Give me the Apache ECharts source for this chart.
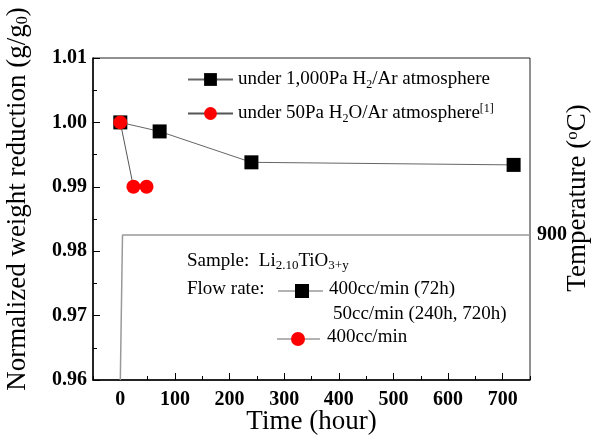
<!DOCTYPE html>
<html>
  <head>
    <meta charset="utf-8" />
    <title>Weight reduction</title>
    <script src="https://cdn.jsdelivr.net/npm/echarts@6/dist/echarts.min.js"></script>
  </head>
  <body style="margin:0">
    <div id="main" style="width: 593px; height: 437px"></div>
    <script>
      // time (hour), normalized weight g/g0
      var h2Time = [0, 72, 240, 720];
      var h2Weight = [1.0, 0.9986, 0.9938, 0.9934];
      var h2oTime = [0, 24, 48];
      var h2oWeight = [1.0, 0.99, 0.99];
      // temperature program
      var tempTime = [0, 4, 750];
      var tempValue = [0, 900, 900];
      var xTicks = [0, 100, 200, 300, 400, 500, 600, 700];

      var serif = "Liberation Serif";
      function pairs(a, b) {
        var out = [];
        for (var i = 0; i < a.length; i++) out.push([a[i], b[i]]);
        return out;
      }

      var chart = echarts.init(document.getElementById("main"));
      var option = {
        backgroundColor: "#fff",
        animation: false,
        textStyle: { fontFamily: serif, color: "#000" },
        grid: {
          left: 93, right: 63, top: 58, bottom: 57,
          containLabel: false, outerBoundsMode: "none",
          show: true, borderColor: "#222", borderWidth: 1
        },
        legend: {
          data: ["h2", "h2o"],
          orient: "vertical",
          left: 182,
          top: 65,
          itemWidth: 45,
          itemHeight: 16,
          itemGap: 12,
          textStyle: {
            fontFamily: serif, fontSize: 19, color: "#000",
            rich: {
              n: { fontFamily: serif, fontSize: 19, lineHeight: 22 },
              sub: { fontFamily: serif, fontSize: 12, lineHeight: 12, verticalAlign: "bottom" },
              sup: { fontFamily: serif, fontSize: 12, lineHeight: 12, verticalAlign: "top" }
            }
          },
          formatter: function (name) {
            if (name === "h2") return "{n|under 1,000Pa H}{sub|2}{n|/Ar atmosphere}";
            return "{n|under 50Pa H}{sub|2}{n|O/Ar atmosphere}{sup|[1]}";
          }
        },
        xAxis: [
          {
            type: "value", min: -50, max: 750,
            name: "Time (hour)", nameLocation: "middle", nameGap: 28, nameMoveOverlap: false,
            nameTextStyle: { fontFamily: serif, fontSize: 27 },
            axisLine: { onZero: false, lineStyle: { color: "#000", width: 1.5 } },
            axisTick: { inside: true, length: 7, customValues: xTicks, lineStyle: { color: "#000" } },
            axisLabel: {
              customValues: xTicks, margin: 10,
              fontFamily: serif, fontSize: 20, fontWeight: "bold", color: "#000"
            },
            splitLine: { show: false }
          },
          {
            type: "value", min: -50, max: 750, interval: 50, position: "bottom",
            axisLine: { show: false, onZero: false },
            axisTick: { inside: true, length: 4, lineStyle: { color: "#000" } },
            axisLabel: { show: false },
            splitLine: { show: false }
          }
        ],
        yAxis: [
          {
            type: "value", min: 0.96, max: 1.01, interval: 0.01,
            name: "Normalized weight reduction (g/g{sub|0})",
            nameLocation: "middle", nameRotate: 90, nameGap: 62, nameMoveOverlap: false,
            nameTextStyle: {
              fontFamily: serif, fontSize: 27, padding: [0, 0, 0, 40],
              rich: { sub: { fontFamily: serif, fontSize: 16, lineHeight: 14, verticalAlign: "bottom" } }
            },
            axisLine: { show: true, onZero: false, lineStyle: { color: "#000", width: 1.5 } },
            axisTick: { inside: true, length: 7, lineStyle: { color: "#000" } },
            minorTick: { show: true, splitNumber: 2, length: 4, lineStyle: { color: "#000" } },
            axisLabel: {
              margin: 6, fontFamily: serif, fontSize: 20, fontWeight: "bold", color: "#000",
              formatter: function (v) { return v.toFixed(2); }
            },
            splitLine: { show: false }
          },
          {
            type: "value", min: 0, max: 2000, interval: 900, position: "right",
            name: "Temperature ({sup|o}C)",
            nameLocation: "middle", nameRotate: 90, nameGap: 34, nameMoveOverlap: false,
            nameTextStyle: {
              fontFamily: serif, fontSize: 27, padding: [0, 0, 0, 42],
              rich: { sup: { fontFamily: serif, fontSize: 17, lineHeight: 14, verticalAlign: "top" } }
            },
            axisLine: { show: false, onZero: false },
            axisTick: { show: false },
            axisLabel: {
              margin: 7, fontFamily: serif, fontSize: 20, fontWeight: "bold", color: "#000",
              formatter: function (v) { return v === 900 ? "900" : ""; }
            },
            splitLine: { show: false }
          }
        ],
        graphic: [
          {
            type: "text", left: 187, top: 252,
            style: {
              text: "{n|Sample:  Li}{sub|2.10}{n|TiO}{sub|3+y}",
              rich: {
                n: { fontFamily: serif, fontSize: 19, lineHeight: 22, fill: "#000" },
                sub: { fontFamily: serif, fontSize: 13, lineHeight: 12, verticalAlign: "bottom", fill: "#000" }
              }
            }
          },
          {
            type: "text", left: 187, top: 280,
            style: { text: "Flow rate:", font: "19px " + serif, fill: "#000" }
          },
          { type: "line", shape: { x1: 278, y1: 291, x2: 323, y2: 291 }, style: { stroke: "#666", lineWidth: 1 } },
          { type: "rect", shape: { x: 295, y: 284, width: 14, height: 14 }, style: { fill: "#000" } },
          {
            type: "text", left: 329, top: 280,
            style: { text: "400cc/min (72h)", font: "19px " + serif, fill: "#000" }
          },
          {
            type: "text", left: 333, top: 305,
            style: { text: "50cc/min (240h, 720h)", font: "19px " + serif, fill: "#000" }
          },
          { type: "line", shape: { x1: 277, y1: 339, x2: 320, y2: 339 }, style: { stroke: "#666", lineWidth: 1 } },
          { type: "circle", shape: { cx: 298, cy: 339, r: 7 }, style: { fill: "#ff0000" } },
          {
            type: "text", left: 327, top: 328,
            style: { text: "400cc/min", font: "19px " + serif, fill: "#000" }
          }
        ],
        series: [
          {
            type: "line", name: "temperature", yAxisIndex: 1,
            data: pairs(tempTime, tempValue),
            symbol: "none",
            lineStyle: { color: "#999", width: 1.5 },
            z: 1
          },
          {
            type: "line", name: "h2",
            data: pairs(h2Time, h2Weight),
            symbol: "rect", symbolSize: 14,
            itemStyle: { color: "#000" },
            lineStyle: { color: "#666", width: 1 },
            z: 3
          },
          {
            type: "line", name: "h2o",
            data: pairs(h2oTime, h2oWeight),
            symbol: "circle", symbolSize: 14,
            itemStyle: { color: "#ff0000" },
            lineStyle: { color: "#555", width: 1 },
            z: 4
          }
        ]
      };
      chart.setOption(option);
    </script>
  </body>
</html>
